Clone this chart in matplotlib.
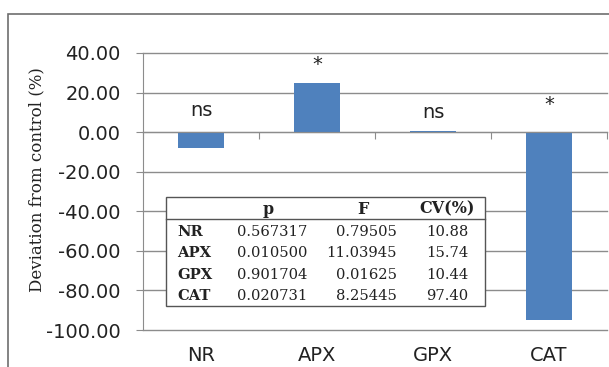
import matplotlib
matplotlib.use("Agg")
import matplotlib.pyplot as plt
from matplotlib.patches import Rectangle
from matplotlib.lines import Line2D

categories = ["NR", "APX", "GPX", "CAT"]
deviation = [-8.0, 24.8, 0.8, -94.9]
signif = ["ns", "*", "ns", "*"]
signif_y = [11.0, 34.0, 10.0, 14.0]

tab_rows = ["NR", "APX", "GPX", "CAT"]
tab_p = ["0.567317", "0.010500", "0.901704", "0.020731"]
tab_F = ["0.79505", "11.03945", "0.01625", "8.25445"]
tab_cv = ["10.88", "15.74", "10.44", "97.40"]

W, H = 609, 367
fig = plt.figure(figsize=(W / 100, H / 100), dpi=100)

# outer chart frame (cut by the image edge)
fig.add_artist(Rectangle((8 / W, -0.1), 1.2, 1 - 14 / H + 0.1, transform=fig.transFigure,
                         fill=False, edgecolor="#6e6e6e", linewidth=1.2))

ax = fig.add_axes([143 / W, 1 - 330 / H, 464 / W, 277 / H])
x = [i + 0.5 for i in range(len(categories))]
ax.bar(x, deviation, width=0.4, color="#4f81bd", zorder=3)
ax.set_xlim(0, len(categories))
ax.set_ylim(-100, 40)
ax.set_yticks(range(-100, 41, 20))
ax.set_yticklabels([f"{v:.2f}" for v in range(-100, 41, 20)], fontsize=14,
                   family="DejaVu Sans", color="#222222")
ax.tick_params(axis="y", length=5, color="#8c8c8c", pad=11)
ax.grid(axis="y", color="#8c8c8c", linewidth=1.0, zorder=0)
for gl in ax.get_ygridlines():
    gl.set_clip_on(False)
for s in ["top", "right"]:
    ax.spines[s].set_visible(False)
ax.spines["left"].set_color("#8c8c8c")
ax.spines["bottom"].set_position(("data", 0))
ax.spines["bottom"].set_color("#8c8c8c")
ax.spines["bottom"].set_zorder(4)
ax.set_xticks(range(len(categories) + 1))
ax.set_xticklabels([])
ax.tick_params(axis="x", length=5, color="#8c8c8c", direction="out")

for xi, c in zip(x, categories):
    ax.text(xi, -0.092, c, transform=ax.get_xaxis_transform(), ha="center", va="center",
            fontsize=14, family="DejaVu Sans", color="#222222")
for xi, s, sy in zip(x, signif, signif_y):
    ax.text(xi, sy, s, ha="center", va="center", fontsize=14, family="DejaVu Sans",
            color="#222222")

fig.text(37 / W, 1 - 180 / H, "Deviation from control (%)", rotation=90, ha="center",
         va="center", fontsize=12, family="DejaVu Serif", color="#222222")

# statistics table
fig.add_artist(Rectangle((166 / W, 1 - 306 / H), 319 / W, 109 / H, transform=fig.transFigure,
                         facecolor="white", edgecolor="#555555", linewidth=1.0, zorder=5))
fig.add_artist(Line2D([166 / W, 485 / W], [1 - 219 / H] * 2, transform=fig.transFigure,
                      color="#555555", linewidth=1.0, zorder=6))
tkw = dict(family="DejaVu Serif", fontsize=10.6, color="#222222", va="center", zorder=7)
hy = 1 - 209 / H
fig.text(268 / W, hy, "p", ha="center", weight="bold", fontsize=11.5,
         **{k: v for k, v in tkw.items() if k != "fontsize"})
fig.text(363 / W, hy, "F", ha="center", weight="bold", fontsize=11.5,
         **{k: v for k, v in tkw.items() if k != "fontsize"})
fig.text(447 / W, hy, "CV(%)", ha="center", weight="bold", fontsize=11.5,
         **{k: v for k, v in tkw.items() if k != "fontsize"})
for i, (r, p, f, cv) in enumerate(zip(tab_rows, tab_p, tab_F, tab_cv)):
    yy = 1 - (232 + 21.3 * i) / H
    fig.text(177 / W, yy, r, ha="left", weight="bold", **tkw)
    fig.text(237 / W, yy, p, ha="left", **tkw)
    fig.text(397 / W, yy, f, ha="right", **tkw)
    fig.text(468 / W, yy, cv, ha="right", **tkw)

fig.savefig("out.png", dpi=100)
